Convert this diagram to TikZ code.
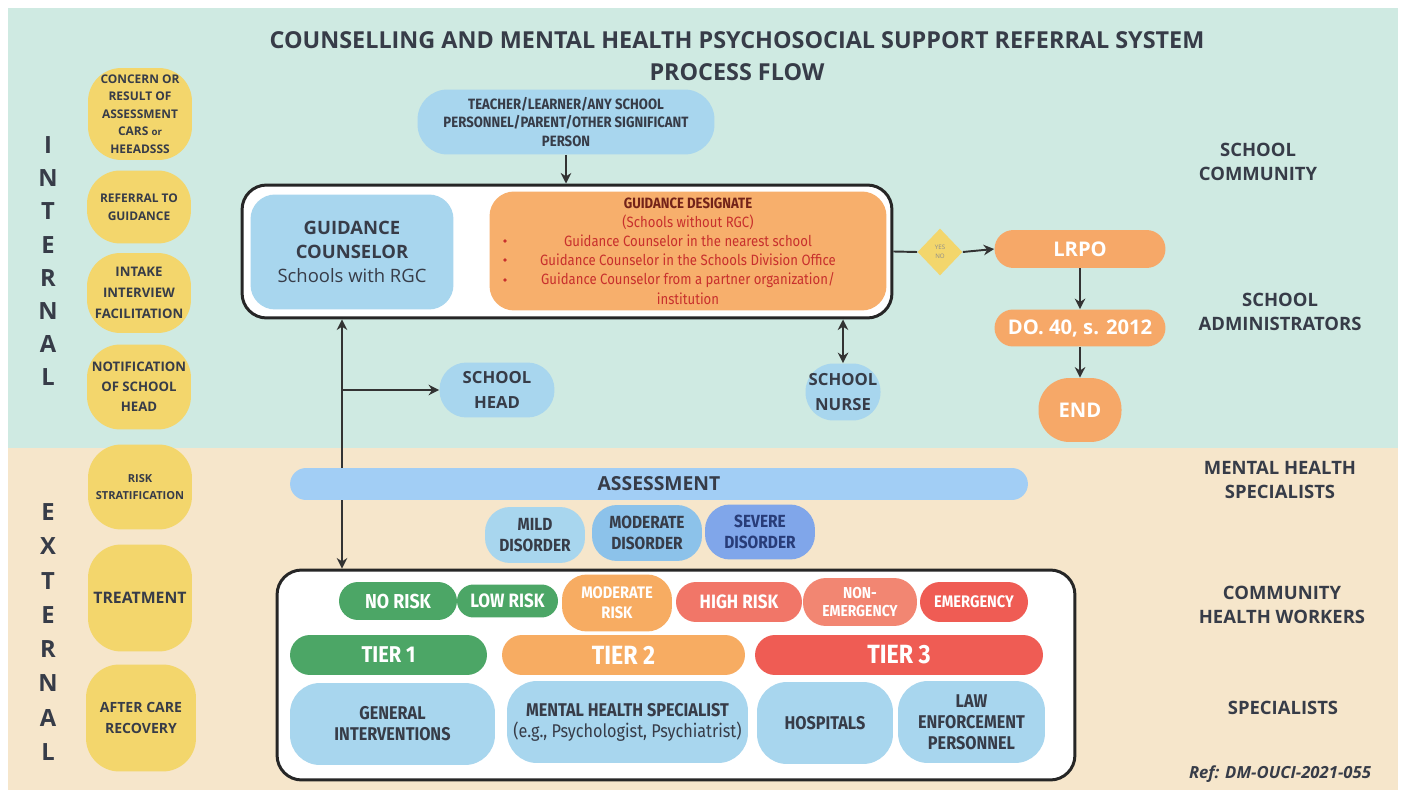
\documentclass[tikz,border=0pt]{standalone}
\usepackage{fontspec}
\setmainfont{Open Sans}
\newfontfamily\cond[FakeStretch=0.88]{Fira Sans}
\usetikzlibrary{shapes.geometric,arrows.meta}

\definecolor{bgteal}{RGB}{207,234,226}
\definecolor{bgtan}{RGB}{246,230,203}
\definecolor{stageyellow}{RGB}{243,214,108}
\definecolor{inkgray}{RGB}{55,60,72}
\definecolor{nodeblue}{RGB}{168,214,238}
\definecolor{barblue}{RGB}{162,206,245}
\definecolor{modblue}{RGB}{140,194,234}
\definecolor{sevblue}{RGB}{128,166,234}
\definecolor{sevink}{RGB}{40,60,120}
\definecolor{desorange}{RGB}{247,175,108}
\definecolor{desred}{RGB}{200,48,45}
\definecolor{desmaroon}{RGB}{115,35,25}
\definecolor{lrpoorange}{RGB}{246,168,104}
\definecolor{diayellow}{RGB}{243,214,108}
\definecolor{riskgreen}{RGB}{76,166,102}
\definecolor{riskorange}{RGB}{247,172,98}
\definecolor{riskhigh}{RGB}{241,118,104}
\definecolor{risknon}{RGB}{242,134,114}
\definecolor{riskred}{RGB}{239,92,84}

\newcommand{\fsz}[2]{\fontsize{#1}{#2}\selectfont}

\tikzset{
	stage/.style={fill=stageyellow, rounded corners=19pt, minimum width=2.08cm, align=center, text=inkgray, inner sep=1pt},
	role/.style={align=center, text=inkgray, font=\bfseries\fsz{10.5}{14}},
	side/.style={text=inkgray, font=\bfseries\fsz{13.5}{14}, inner sep=0pt},
	blob/.style={fill=#1, align=center, text=inkgray, inner sep=1pt},
	borderbox/.style={draw=black!85, line width=1.7pt, fill=white, rounded corners=14pt},
	arr/.style={draw=black!80, line width=1.1pt, -{Stealth[length=6pt,width=6pt]}},
	twoway/.style={draw=black!80, line width=1.1pt, {Stealth[length=6pt,width=6pt]}-{Stealth[length=6pt,width=6pt]}},
}

\begin{document}
\begin{tikzpicture}[x=0.02cm,y=-0.02cm]
	\useasboundingbox (0,0) rectangle (1403,790);
	\fill[white] (0,0) rectangle (1403,790);
	\fill[bgteal] (8,8) rectangle (1398,448);
	\fill[bgtan] (8,448) rectangle (1398,790);

	% title
	\node[text=inkgray, font=\bfseries\fsz{13.3}{15}] (title) at (737,40) {COUNSELLING AND MENTAL HEALTH PSYCHOSOCIAL SUPPORT REFERRAL SYSTEM};
	\node[text=inkgray, font=\bfseries\fsz{13.3}{15}] (subtitle) at (737,72) {PROCESS FLOW};

	\foreach \ch [count=\i] in {I,N,T,E,R,N,A,L}
	{
		\node[side] (int\i) at (48,{145+33.2*(\i-1)}) {\ch};
	}
	\foreach \ch [count=\i] in {E,X,T,E,R,N,A,L}
	{
		\node[side] (ext\i) at (48,{512+34.3*(\i-1)}) {\ch};
	}

	% steps on the left
	\node[stage, minimum height=1.84cm, font=\bfseries\fsz{6.8}{10}] (concern) at (140,114) {CONCERN OR\\RESULT OF\\ASSESSMENT\\CARS {\fsz{5.5}{10}or}\\HEEADSSS};
	\node[stage, minimum height=1.46cm, font=\bfseries\fsz{6.8}{10}] (referral) at (139,207) {REFERRAL TO\\GUIDANCE};
	\node[stage, minimum height=1.6cm, font=\bfseries\fsz{7.5}{12}] (intake) at (139,293) {INTAKE\\INTERVIEW\\FACILITATION};
	\node[stage, minimum height=1.7cm, font=\bfseries\fsz{7.5}{11.5}] (notify) at (139,387) {NOTIFICATION\\OF SCHOOL\\HEAD};
	\node[stage, minimum height=1.7cm, font=\bfseries\fsz{6.3}{10}] (riskstrat) at (140,487) {RISK\\STRATIFICATION};
	\node[stage, minimum height=2.14cm, font=\bfseries\fsz{9}{11}] (treat) at (140,598) {TREATMENT};
	\node[stage, minimum height=2.14cm, minimum width=2.2cm, font=\bfseries\fsz{8}{12}] (aftercare) at (141,718) {AFTER CARE\\RECOVERY};

	% groups on the right
	\node[role] (community) at (1258,162) {SCHOOL\\COMMUNITY};
	\node[role] (admins) at (1280,312) {SCHOOL\\ADMINISTRATORS};
	\node[role] (mhs) at (1280,480) {MENTAL HEALTH\\SPECIALISTS};
	\node[role] (chw) at (1282,605) {COMMUNITY\\HEALTH WORKERS};
	\node[role] (spec) at (1283,708) {SPECIALISTS};
	\node[text=inkgray, font=\bfseries\itshape\fsz{9.5}{11}] (ref) at (1280,774) {Ref: DM-OUCI-2021-055};

	% school level
	\node[blob=nodeblue, rounded corners=0.6cm, minimum width=5.94cm, minimum height=1.3cm, font=\cond\bfseries\fsz{8.5}{10.5}] (source) at (566,122) {TEACHER/LEARNER/ANY SCHOOL\\PERSONNEL/PARENT/OTHER SIGNIFICANT\\PERSON};
	\node[borderbox, minimum width=13cm, minimum height=2.66cm] (gframe) at (567,251.5) {};
	\node[blob=nodeblue, rounded corners=14pt, minimum width=4.06cm, minimum height=2.3cm, font=\fsz{10.5}{13.5}] (counselor) at (352,252) {\textbf{GUIDANCE}\\\textbf{COUNSELOR}\\Schools with RGC};
	\node[blob=desorange, rounded corners=14pt, minimum width=7.94cm, minimum height=2.38cm, text=desred, font=\cond\fsz{8.5}{10.9}] (designate) at (688,251) {{\bfseries\color{desmaroon}GUIDANCE DESIGNATE}\\(Schools without RGC)\\Guidance Counselor in the nearest school\\Guidance Counselor in the Schools Division Office\\Guidance Counselor from a partner organization/\\institution};
	\foreach \y in {241,260,280}
	{
		\fill[desred] (505,\y) circle (1.1pt);
	}
	\draw[arr] (source.south) -- (source.south |- gframe.north);

	\node[diamond, fill=diayellow, minimum width=0.9cm, minimum height=0.94cm, inner sep=0pt, align=center, text=black!45, font=\fsz{3.5}{5}] (decide) at (940,252) {YES\\NO};
	\node[blob=lrpoorange, rounded corners=0.38cm, minimum width=3.42cm, minimum height=0.76cm, text=white, font=\bfseries\fsz{11.5}{13}] (lrpo) at (1080,249) {LRPO};
	\node[blob=lrpoorange, rounded corners=0.37cm, minimum width=3.42cm, minimum height=0.74cm, text=white, font=\bfseries\fsz{11.5}{13}] (order) at (1080,328) {DO. 40, s. 2012};
	\node[blob=lrpoorange, rounded corners=0.62cm, minimum width=1.66cm, minimum height=1.28cm, text=white, font=\bfseries\fsz{11.5}{13}] (finish) at (1080,410) {END};
	\draw[draw=black!80, line width=1.1pt] (gframe.east) -- (decide.west);
	\draw[arr] (decide.east) -- (lrpo.west);
	\draw[arr] (lrpo) -- (order);
	\draw[arr] (order) -- (finish);

	\node[blob=nodeblue, rounded corners=0.54cm, minimum width=2.3cm, minimum height=1.1cm, font=\bfseries\fsz{9.5}{14}] (head) at (497,390) {SCHOOL\\HEAD};
	\node[blob=nodeblue, rounded corners=0.56cm, minimum width=1.5cm, minimum height=1.14cm, inner sep=0pt, font=\bfseries\fsz{9.5}{14}] (nurse) at (843,392) {SCHOOL\\NURSE};
	\draw[twoway] (nurse.north) -- (nurse.north |- gframe.south);

	% community level
	\node[borderbox, minimum width=15.96cm, minimum height=4.2cm] (cframe) at (676,675) {};
	\coordinate (fork) at (342,390);
	\draw[arr] (fork) -- (fork |- gframe.south);
	\draw[arr] (fork) -- (fork |- cframe.north);
	\draw[arr] (fork) -- (head.west);

	\node[blob=barblue, rounded corners=0.32cm, minimum width=14.76cm, minimum height=0.64cm, font=\bfseries\fsz{11}{13}] (assess) at (659,484) {ASSESSMENT};
	\node[blob=nodeblue, rounded corners=0.5cm, minimum width=2cm, minimum height=1.12cm, font=\cond\bfseries\fsz{10}{11.5}] (mild) at (535,535) {MILD\\DISORDER};
	\node[blob=modblue, rounded corners=0.5cm, minimum width=2.2cm, minimum height=1.12cm, font=\cond\bfseries\fsz{10}{11.5}] (moderate) at (647,533) {MODERATE\\DISORDER};
	\node[blob=sevblue, rounded corners=0.5cm, minimum width=2.2cm, minimum height=1.1cm, text=sevink, font=\cond\bfseries\fsz{10}{11.5}] (severe) at (760,532) {SEVERE\\DISORDER};

	\node[blob=riskgreen, rounded corners=0.38cm, minimum width=2.36cm, minimum height=0.76cm, text=white, font=\cond\bfseries\fsz{11.5}{13}] (norisk) at (398,601) {NO RISK};
	\node[blob=riskgreen, rounded corners=0.33cm, minimum width=2.02cm, minimum height=0.66cm, text=white, font=\cond\bfseries\fsz{11}{13}] (lowrisk) at (507.5,601) {LOW RISK};
	\node[blob=riskorange, rounded corners=0.5cm, minimum width=2.2cm, minimum height=1.14cm, text=white, font=\cond\bfseries\fsz{9.5}{11.5}] (modrisk) at (617,603) {MODERATE\\RISK};
	\node[blob=riskhigh, rounded corners=0.4cm, minimum width=2.52cm, minimum height=0.8cm, text=white, font=\cond\bfseries\fsz{11}{13}] (highrisk) at (739,602) {HIGH RISK};
	\node[blob=risknon, rounded corners=0.46cm, minimum width=2.28cm, minimum height=0.96cm, text=white, font=\cond\bfseries\fsz{9}{10.5}] (nonemerg) at (860,602) {NON-\\EMERGENCY};
	\node[blob=riskred, rounded corners=0.4cm, minimum width=2.16cm, minimum height=0.8cm, text=white, font=\cond\bfseries\fsz{9.5}{11}] (emerg) at (974,602) {EMERGENCY};

	\node[blob=riskgreen, rounded corners=0.4cm, minimum width=3.94cm, minimum height=0.8cm, text=white, font=\cond\bfseries\fsz{13}{15}] (tier1) at (388.5,655) {TIER 1};
	\node[blob=riskorange, rounded corners=0.4cm, minimum width=4.86cm, minimum height=0.8cm, text=white, font=\cond\bfseries\fsz{15}{17}] (tier2) at (623.5,655) {TIER 2};
	\node[blob=riskred, rounded corners=0.4cm, minimum width=5.76cm, minimum height=0.8cm, text=white, font=\cond\bfseries\fsz{15}{17}] (tier3) at (899,655) {TIER 3};

	\node[blob=nodeblue, rounded corners=0.6cm, minimum width=4.1cm, minimum height=1.64cm, font=\cond\bfseries\fsz{10.5}{12}] (general) at (392.5,724) {GENERAL\\INTERVENTIONS};
	\node[blob=nodeblue, rounded corners=0.6cm, minimum width=4.82cm, minimum height=1.64cm, font=\cond\fsz{10.5}{12}] (mhspec) at (627.5,722) {\textbf{MENTAL HEALTH SPECIALIST}\\(e.g., Psychologist, Psychiatrist)};
	\node[blob=nodeblue, rounded corners=0.6cm, minimum width=2.72cm, minimum height=1.64cm, font=\cond\bfseries\fsz{10.5}{12}] (hospital) at (825,723) {HOSPITALS};
	\node[blob=nodeblue, rounded corners=0.6cm, minimum width=2.94cm, minimum height=1.64cm, font=\cond\bfseries\fsz{10.5}{12}] (police) at (971.5,722) {LAW\\ENFORCEMENT\\PERSONNEL};
\end{tikzpicture}
\end{document}
